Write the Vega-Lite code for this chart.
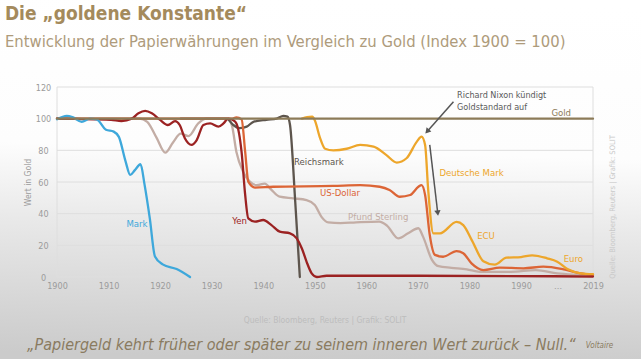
{
  "$schema": "https://vega.github.io/schema/vega-lite/v6.json",
  "width": 536,
  "height": 190,
  "autosize": "none",
  "padding": {"left": 57, "top": 87, "right": 48, "bottom": 82},
  "background": "#ffffff",
  "config": {
    "view": {"stroke": null},
    "font": "Liberation Sans Narrow, DejaVu Sans Condensed, sans-serif"
  },
  "encoding": {
    "x": {
      "field": "year",
      "type": "quantitative",
      "scale": {"domain": [1900, 1990, 2019], "range": [0, 464, 536], "nice": false, "zero": false},
      "axis": {
        "values": [1900, 1910, 1920, 1930, 1940, 1950, 1960, 1970, 1980, 1990, 2004.7, 2019],
        "format": "d",
        "labelExpr": "datum.value > 2000 && datum.value < 2010 ? '…' : datum.label",
        "grid": false,
        "ticks": false,
        "domain": false,
        "labelColor": "#9b9b9b",
        "labelFontSize": 9,
        "labelPadding": 4,
        "labelFlush": false,
        "labelOverlap": false,
        "title": null,
        "zindex": 1
      }
    },
    "y": {
      "field": "v",
      "type": "quantitative",
      "scale": {"domain": [0, 120], "nice": false, "zero": false},
      "axis": {
        "values": [0, 20, 40, 60, 80, 100, 120],
        "grid": false,
        "ticks": false,
        "domain": false,
        "labelColor": "#9b9b9b",
        "labelFontSize": 9,
        "labelAlign": "center",
        "labelPadding": 14,
        "labelFlush": false,
        "title": "Wert in Gold",
        "titleFontSize": 8.5,
        "titleColor": "#9b9b9b",
        "titleFontWeight": "normal",
        "titlePadding": 3,
        "zindex": 1
      }
    }
  },
  "layer": [
    {
      "data": {"values": [{"year": 1888.9, "year2": 2039.5, "v": 175.5, "v2": -52}]},
      "mark": {
        "type": "rect",
        "clip": false,
        "fill": {
          "gradient": "linear",
          "x1": 0.5, "y1": 0, "x2": 0.45, "y2": 1,
          "stops": [
            {"offset": 0, "color": "#ffffff"},
            {"offset": 0.42, "color": "#fdfdfd"},
            {"offset": 0.63, "color": "#e9e9e9"},
            {"offset": 0.9, "color": "#d3d3d3"},
            {"offset": 1, "color": "#cbcbcb"}
          ]
        }
      },
      "encoding": {"x2": {"field": "year2"}, "y2": {"field": "v2"}}
    },
    {
      "data": {"values": [
        {"year": 1900, "year2": 2019, "v": 0},
        {"year": 1900, "year2": 2019, "v": 20},
        {"year": 1900, "year2": 2019, "v": 40},
        {"year": 1900, "year2": 2019, "v": 60},
        {"year": 1900, "year2": 2019, "v": 80},
        {"year": 1900, "year2": 2019, "v": 100},
        {"year": 1900, "year2": 2019, "v": 120}
      ]},
      "mark": {"type": "rule", "color": "#dedede", "strokeWidth": 1},
      "encoding": {"x2": {"field": "year2"}}
    },
    {
      "data": {"values": [
        {"year": 1900, "v": 0, "v2": 120},
        {"year": 2019, "v": 0, "v2": 120}
      ]},
      "mark": {"type": "rule", "color": "#dedede", "strokeWidth": 1},
      "encoding": {"y2": {"field": "v2"}}
    },
    {
      "data": {"values": [
        {"s": "Pfund Sterling", "year": 1900, "v": 100},
        {"s": "Pfund Sterling", "year": 1916, "v": 100},
        {"s": "Pfund Sterling", "year": 1917.5, "v": 98},
        {"s": "Pfund Sterling", "year": 1919.3, "v": 88},
        {"s": "Pfund Sterling", "year": 1921, "v": 78.5},
        {"s": "Pfund Sterling", "year": 1922.5, "v": 85},
        {"s": "Pfund Sterling", "year": 1924, "v": 90.5},
        {"s": "Pfund Sterling", "year": 1925.5, "v": 89},
        {"s": "Pfund Sterling", "year": 1927.4, "v": 97},
        {"s": "Pfund Sterling", "year": 1929, "v": 100},
        {"s": "Pfund Sterling", "year": 1933, "v": 100},
        {"s": "Pfund Sterling", "year": 1933.9, "v": 96},
        {"s": "Pfund Sterling", "year": 1934.8, "v": 79},
        {"s": "Pfund Sterling", "year": 1936.1, "v": 66.5},
        {"s": "Pfund Sterling", "year": 1937.4, "v": 60.2},
        {"s": "Pfund Sterling", "year": 1938.7, "v": 58},
        {"s": "Pfund Sterling", "year": 1940.3, "v": 59},
        {"s": "Pfund Sterling", "year": 1941.6, "v": 55},
        {"s": "Pfund Sterling", "year": 1943.2, "v": 50.7},
        {"s": "Pfund Sterling", "year": 1945.8, "v": 49.7},
        {"s": "Pfund Sterling", "year": 1948.4, "v": 48.6},
        {"s": "Pfund Sterling", "year": 1950, "v": 45.5},
        {"s": "Pfund Sterling", "year": 1951.3, "v": 38},
        {"s": "Pfund Sterling", "year": 1952.6, "v": 34.5},
        {"s": "Pfund Sterling", "year": 1955, "v": 34},
        {"s": "Pfund Sterling", "year": 1958, "v": 34.5},
        {"s": "Pfund Sterling", "year": 1962.5, "v": 35},
        {"s": "Pfund Sterling", "year": 1964, "v": 32.5},
        {"s": "Pfund Sterling", "year": 1966.2, "v": 24.4},
        {"s": "Pfund Sterling", "year": 1968.1, "v": 27.6},
        {"s": "Pfund Sterling", "year": 1970.1, "v": 30.8},
        {"s": "Pfund Sterling", "year": 1971, "v": 25.5},
        {"s": "Pfund Sterling", "year": 1972.7, "v": 11},
        {"s": "Pfund Sterling", "year": 1974, "v": 6.8},
        {"s": "Pfund Sterling", "year": 1976.5, "v": 5.8},
        {"s": "Pfund Sterling", "year": 1979.5, "v": 4.8},
        {"s": "Pfund Sterling", "year": 1982, "v": 3.3},
        {"s": "Pfund Sterling", "year": 1988, "v": 3.3},
        {"s": "Pfund Sterling", "year": 1996, "v": 4.4},
        {"s": "Pfund Sterling", "year": 2004.6, "v": 2.3},
        {"s": "Pfund Sterling", "year": 2014, "v": 1.3},
        {"s": "Pfund Sterling", "year": 2019, "v": 0.8},

        {"s": "Reichsmark", "year": 1924, "v": 100},
        {"s": "Reichsmark", "year": 1932.9, "v": 100},
        {"s": "Reichsmark", "year": 1934.2, "v": 96},
        {"s": "Reichsmark", "year": 1935.3, "v": 94},
        {"s": "Reichsmark", "year": 1936.8, "v": 95},
        {"s": "Reichsmark", "year": 1938.1, "v": 98},
        {"s": "Reichsmark", "year": 1940.6, "v": 99.3},
        {"s": "Reichsmark", "year": 1942.6, "v": 100},
        {"s": "Reichsmark", "year": 1943.9, "v": 101.8},
        {"s": "Reichsmark", "year": 1944.7, "v": 101.3},
        {"s": "Reichsmark", "year": 1945.2, "v": 96},
        {"s": "Reichsmark", "year": 1946.2, "v": 48},
        {"s": "Reichsmark", "year": 1947.1, "v": 0},

        {"s": "US-Dollar", "year": 1900, "v": 100},
        {"s": "US-Dollar", "year": 1933.9, "v": 100},
        {"s": "US-Dollar", "year": 1934.8, "v": 100.8},
        {"s": "US-Dollar", "year": 1935.8, "v": 99.5},
        {"s": "US-Dollar", "year": 1936.5, "v": 79},
        {"s": "US-Dollar", "year": 1937.1, "v": 60.2},
        {"s": "US-Dollar", "year": 1938.4, "v": 56.5},
        {"s": "US-Dollar", "year": 1941.9, "v": 57},
        {"s": "US-Dollar", "year": 1953.6, "v": 57.5},
        {"s": "US-Dollar", "year": 1958.8, "v": 58},
        {"s": "US-Dollar", "year": 1962.6, "v": 57},
        {"s": "US-Dollar", "year": 1964.5, "v": 55},
        {"s": "US-Dollar", "year": 1966.5, "v": 50.7},
        {"s": "US-Dollar", "year": 1968.5, "v": 51.8},
        {"s": "US-Dollar", "year": 1970.1, "v": 57},
        {"s": "US-Dollar", "year": 1970.7, "v": 58},
        {"s": "US-Dollar", "year": 1971.4, "v": 51.8},
        {"s": "US-Dollar", "year": 1972.3, "v": 26.5},
        {"s": "US-Dollar", "year": 1973.3, "v": 14},
        {"s": "US-Dollar", "year": 1974.9, "v": 12.8},
        {"s": "US-Dollar", "year": 1977.5, "v": 16.4},
        {"s": "US-Dollar", "year": 1978.8, "v": 15},
        {"s": "US-Dollar", "year": 1980.4, "v": 8.6},
        {"s": "US-Dollar", "year": 1982.7, "v": 4.4},
        {"s": "US-Dollar", "year": 1985.9, "v": 5.9},
        {"s": "US-Dollar", "year": 1991, "v": 5.5},
        {"s": "US-Dollar", "year": 1999, "v": 6.5},
        {"s": "US-Dollar", "year": 2007.3, "v": 4.8},
        {"s": "US-Dollar", "year": 2014, "v": 2.3},
        {"s": "US-Dollar", "year": 2019, "v": 1.3},

        {"s": "Deutsche Mark", "year": 1947.5, "v": 100},
        {"s": "Deutsche Mark", "year": 1948.5, "v": 101},
        {"s": "Deutsche Mark", "year": 1949.5, "v": 101.2},
        {"s": "Deutsche Mark", "year": 1950, "v": 99},
        {"s": "Deutsche Mark", "year": 1951, "v": 88},
        {"s": "Deutsche Mark", "year": 1952, "v": 81},
        {"s": "Deutsche Mark", "year": 1953.6, "v": 80},
        {"s": "Deutsche Mark", "year": 1956.2, "v": 81},
        {"s": "Deutsche Mark", "year": 1958.8, "v": 83.4},
        {"s": "Deutsche Mark", "year": 1961.4, "v": 82.3},
        {"s": "Deutsche Mark", "year": 1963.9, "v": 77},
        {"s": "Deutsche Mark", "year": 1965.9, "v": 72.3},
        {"s": "Deutsche Mark", "year": 1967.8, "v": 75},
        {"s": "Deutsche Mark", "year": 1969.8, "v": 85.5},
        {"s": "Deutsche Mark", "year": 1970.7, "v": 88.6},
        {"s": "Deutsche Mark", "year": 1971.4, "v": 83.4},
        {"s": "Deutsche Mark", "year": 1972, "v": 55},
        {"s": "Deutsche Mark", "year": 1973, "v": 27.6},
        {"s": "Deutsche Mark", "year": 1974.3, "v": 27.6},
        {"s": "Deutsche Mark", "year": 1977.5, "v": 34.8},
        {"s": "Deutsche Mark", "year": 1978.8, "v": 32.8},
        {"s": "Deutsche Mark", "year": 1980.5, "v": 23},
        {"s": "Deutsche Mark", "year": 1982.7, "v": 10},
        {"s": "Deutsche Mark", "year": 1984.9, "v": 7.8},
        {"s": "Deutsche Mark", "year": 1987.2, "v": 12.2},
        {"s": "Deutsche Mark", "year": 1990, "v": 12.6},
        {"s": "Deutsche Mark", "year": 1994.5, "v": 13.7},
        {"s": "Deutsche Mark", "year": 2000.5, "v": 11.8},
        {"s": "Deutsche Mark", "year": 2004.6, "v": 9.7},
        {"s": "Deutsche Mark", "year": 2008.7, "v": 5},
        {"s": "Deutsche Mark", "year": 2014, "v": 2.3},
        {"s": "Deutsche Mark", "year": 2019, "v": 1.8},

        {"s": "Yen", "year": 1900, "v": 100},
        {"s": "Yen", "year": 1910.5, "v": 99.2},
        {"s": "Yen", "year": 1912.5, "v": 98.5},
        {"s": "Yen", "year": 1914.5, "v": 100},
        {"s": "Yen", "year": 1915.8, "v": 103.4},
        {"s": "Yen", "year": 1917.1, "v": 104.9},
        {"s": "Yen", "year": 1918.4, "v": 103.4},
        {"s": "Yen", "year": 1920, "v": 99.2},
        {"s": "Yen", "year": 1921.5, "v": 96},
        {"s": "Yen", "year": 1922.9, "v": 98.5},
        {"s": "Yen", "year": 1923.8, "v": 96},
        {"s": "Yen", "year": 1924.8, "v": 87.6},
        {"s": "Yen", "year": 1926.1, "v": 83.4},
        {"s": "Yen", "year": 1927.1, "v": 86.5},
        {"s": "Yen", "year": 1928.4, "v": 96},
        {"s": "Yen", "year": 1929.7, "v": 97},
        {"s": "Yen", "year": 1931.3, "v": 95},
        {"s": "Yen", "year": 1932.3, "v": 97},
        {"s": "Yen", "year": 1933.2, "v": 100},
        {"s": "Yen", "year": 1934.2, "v": 99},
        {"s": "Yen", "year": 1934.8, "v": 97},
        {"s": "Yen", "year": 1935.8, "v": 79},
        {"s": "Yen", "year": 1936.5, "v": 51.8},
        {"s": "Yen", "year": 1937.1, "v": 37},
        {"s": "Yen", "year": 1938.4, "v": 35},
        {"s": "Yen", "year": 1940, "v": 36},
        {"s": "Yen", "year": 1941.6, "v": 32.8},
        {"s": "Yen", "year": 1943.2, "v": 28.6},
        {"s": "Yen", "year": 1945.2, "v": 27.6},
        {"s": "Yen", "year": 1946.5, "v": 24.4},
        {"s": "Yen", "year": 1947.5, "v": 18},
        {"s": "Yen", "year": 1948.4, "v": 9.7},
        {"s": "Yen", "year": 1949.4, "v": 2.3},
        {"s": "Yen", "year": 1950.4, "v": 0},
        {"s": "Yen", "year": 1952.3, "v": 0.8},
        {"s": "Yen", "year": 1970, "v": 0.8},
        {"s": "Yen", "year": 2019, "v": 0.3},

        {"s": "Mark", "year": 1900, "v": 99.6},
        {"s": "Mark", "year": 1901.9, "v": 101.8},
        {"s": "Mark", "year": 1903, "v": 101},
        {"s": "Mark", "year": 1904.8, "v": 98},
        {"s": "Mark", "year": 1906.4, "v": 100},
        {"s": "Mark", "year": 1907.7, "v": 99.5},
        {"s": "Mark", "year": 1909.5, "v": 93},
        {"s": "Mark", "year": 1911, "v": 91.8},
        {"s": "Mark", "year": 1912, "v": 88.5},
        {"s": "Mark", "year": 1913.3, "v": 73},
        {"s": "Mark", "year": 1914.2, "v": 64.5},
        {"s": "Mark", "year": 1915.1, "v": 67.5},
        {"s": "Mark", "year": 1916.2, "v": 71.2},
        {"s": "Mark", "year": 1917, "v": 58},
        {"s": "Mark", "year": 1918, "v": 37},
        {"s": "Mark", "year": 1919, "v": 13},
        {"s": "Mark", "year": 1920.5, "v": 8},
        {"s": "Mark", "year": 1923.2, "v": 5},
        {"s": "Mark", "year": 1925.8, "v": 0},

        {"s": "Gold", "year": 1900, "v": 100},
        {"s": "Gold", "year": 2019, "v": 100}
      ]},
      "mark": {"type": "line", "interpolate": "monotone", "strokeWidth": 2.3, "strokeCap": "round", "clip": false},
      "encoding": {
        "color": {
          "field": "s",
          "type": "nominal",
          "scale": {
            "domain": ["Pfund Sterling", "Reichsmark", "US-Dollar", "Deutsche Mark", "Yen", "Mark", "Gold"],
            "range": ["#c3ada5", "#5d554d", "#dc6536", "#eda62b", "#9b2222", "#3ea8db", "#8c7b58"]
          },
          "legend": null
        }
      }
    },
    {
      "data": {"values": [
        {"t": "Mark", "s": "Mark", "year": 1915.5, "v": 33.5},
        {"t": "Yen", "s": "Yen", "year": 1935.4, "v": 35.4},
        {"t": "Reichsmark", "s": "Reichsmark", "year": 1950.8, "v": 72.8},
        {"t": "US-Dollar", "s": "US-Dollar", "year": 1954.9, "v": 53},
        {"t": "Pfund Sterling", "s": "Pfund Sterling", "year": 1962.3, "v": 38.1},
        {"t": "Deutsche Mark", "s": "Deutsche Mark", "year": 1980.4, "v": 65.7},
        {"t": "ECU", "s": "Deutsche Mark", "year": 1983.2, "v": 25.6},
        {"t": "Euro", "s": "Deutsche Mark", "year": 2011.1, "v": 11.4},
        {"t": "Gold", "s": "Gold", "year": 2006.2, "v": 103.3}
      ]},
      "mark": {"type": "text", "fontSize": 9.5, "align": "center", "baseline": "middle", "clip": false},
      "encoding": {
        "text": {"field": "t"},
        "color": {"field": "s", "type": "nominal", "legend": null}
      }
    },
    {
      "data": {"values": [
        {"t": "Richard Nixon kündigt", "year": 1977.6, "v": 115},
        {"t": "Goldstandard auf", "year": 1977.6, "v": 107.4}
      ]},
      "mark": {"type": "text", "fontSize": 9, "align": "left", "baseline": "middle", "color": "#5a5a5a"},
      "encoding": {"text": {"field": "t"}}
    },
    {
      "data": {"values": [
        {"year": 1976.9, "v": 110.7, "year2": 1971.8, "v2": 91.9},
        {"year": 1972.3, "v": 83.4, "year2": 1973.85, "v2": 40.4}
      ]},
      "mark": {"type": "rule", "color": "#555555", "strokeWidth": 1.5},
      "encoding": {"x2": {"field": "year2"}, "y2": {"field": "v2"}}
    },
    {
      "data": {"values": [{"year": 1971.8, "v": 91.9}]},
      "mark": {"type": "point", "shape": "triangle-up", "filled": true, "color": "#555555", "opacity": 1, "size": 40, "angle": 221},
      "encoding": {}
    },
    {
      "data": {"values": [{"year": 1973.85, "v": 40.4}]},
      "mark": {"type": "point", "shape": "triangle-up", "filled": true, "color": "#555555", "opacity": 1, "size": 40, "angle": 173},
      "encoding": {}
    },
    {
      "data": {"values": [{"t": "Die „goldene Konstante“", "year": 1889.9, "v": 166.1}]},
      "mark": {"type": "text", "fontSize": 19, "fontWeight": "bold", "align": "left", "baseline": "middle", "color": "#a48a5c", "clip": false},
      "encoding": {"text": {"field": "t"}}
    },
    {
      "data": {"values": [{"t": "Entwicklung der Papierwährungen im Vergleich zu Gold (Index 1900 = 100)", "year": 1889.9, "v": 148.5}]},
      "mark": {"type": "text", "fontSize": 16.5, "align": "left", "baseline": "middle", "color": "#ae9b7b", "clip": false},
      "encoding": {"text": {"field": "t"}}
    },
    {
      "data": {"values": [{"t": "Quelle: Bloomberg, Reuters | Grafik: SOLIT", "year": 1952, "v": -27.2}]},
      "mark": {"type": "text", "fontSize": 8.5, "align": "center", "baseline": "middle", "color": "#bdbdbd", "clip": false},
      "encoding": {"text": {"field": "t"}}
    },
    {
      "data": {"values": [{"t": "„Papiergeld kehrt früher oder später zu seinem inneren Wert zurück – Null.“", "year": 1894.2, "v": -46.1}]},
      "mark": {"type": "text", "fontSize": 16, "fontStyle": "italic", "align": "left", "baseline": "alphabetic", "color": "#8a7b60", "clip": false},
      "encoding": {"text": {"field": "t"}}
    },
    {
      "data": {"values": [{"t": "Voltaire", "year": 2016.1, "v": -44.9}]},
      "mark": {"type": "text", "fontSize": 8, "fontStyle": "italic", "align": "left", "baseline": "alphabetic", "color": "#8a7b60", "clip": false},
      "encoding": {"text": {"field": "t"}}
    },
    {
      "data": {"values": [{"t": "Quelle: Bloomberg, Reuters | Grafik: SOLIT", "year": 2027.2, "v": 44.2}]},
      "mark": {"type": "text", "fontSize": 7.5, "angle": 270, "align": "center", "baseline": "middle", "color": "#c9c9c9", "clip": false},
      "encoding": {"text": {"field": "t"}}
    }
  ]
}
